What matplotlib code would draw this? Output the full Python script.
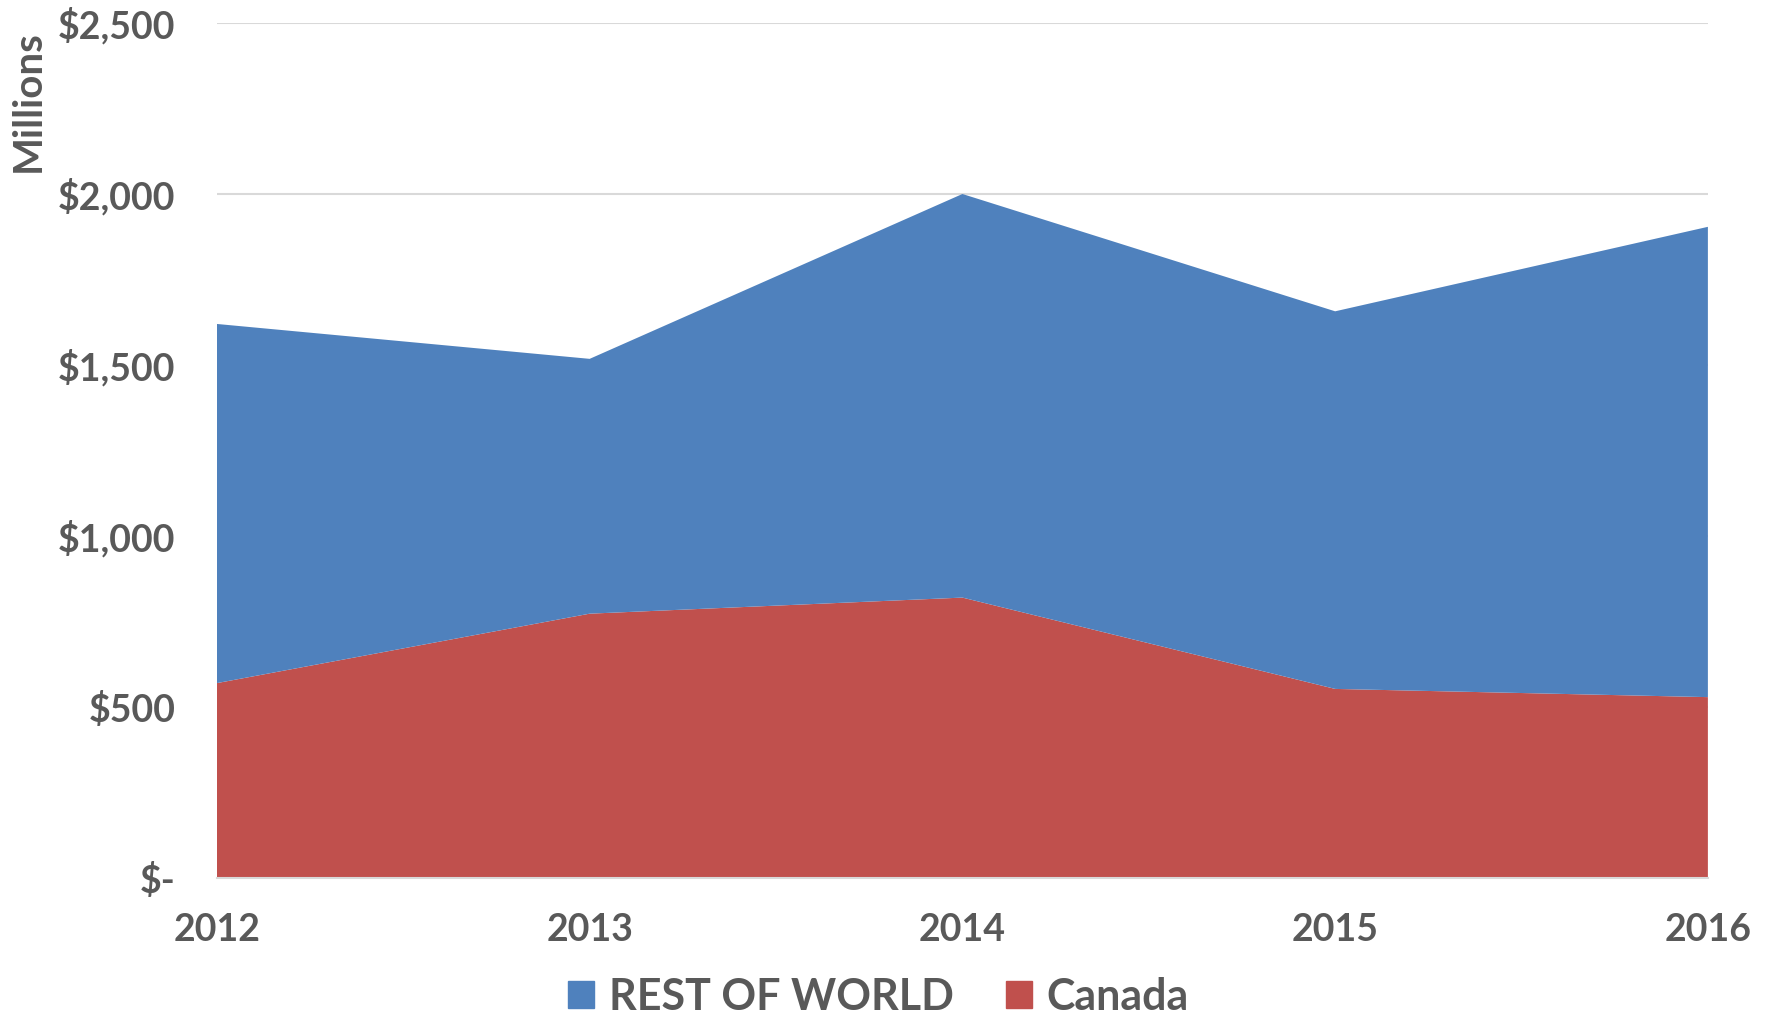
import matplotlib.pyplot as plt
from matplotlib.ticker import FuncFormatter
from matplotlib.patches import Patch

# Data (millions of dollars)
years = [2012, 2013, 2014, 2015, 2016]
canada = [570, 773, 820, 553, 529]
rest_of_world = [1050, 745, 1180, 1104, 1375]

blue = '#4F81BD'
red = '#C0504D'
grey_text = '#595959'

plt.rcParams['font.family'] = ['Lato', 'DejaVu Sans']

fig = plt.figure(figsize=(17.68, 10.21), dpi=100)
ax = fig.add_axes([0.1227, 0.140, 0.8433, 0.8375])

ax.stackplot(years, canada, rest_of_world, colors=[red, blue], linewidth=0)

ax.set_xlim(2012, 2016)
ax.set_ylim(0, 2500)
ax.set_yticks(range(0, 2501, 500))
ax.set_xticks(years)
ax.grid(axis='y', color='#D9D9D9', linewidth=1.5)
ax.set_axisbelow(True)

def money(v, pos):
    if v == 0:
        return '$-'
    return '${:,.0f}'.format(v)

ax.yaxis.set_major_formatter(FuncFormatter(money))

for s in ['top', 'right', 'left']:
    ax.spines[s].set_visible(False)
ax.spines['bottom'].set_color('#D9D9D9')
ax.spines['bottom'].set_linewidth(1.5)

ax.tick_params(axis='both', length=0, colors=grey_text, labelsize=27)
ax.tick_params(axis='y', pad=30)
ax.tick_params(axis='x', pad=25)
for lbl in ax.get_xticklabels() + ax.get_yticklabels():
    lbl.set_fontweight('bold')

fig.text(0.016, 0.901, 'Millions', rotation=90, ha='center', va='center',
         fontsize=29, fontweight='bold', color=grey_text)

handles = [Patch(color=blue, label='REST OF WORLD'), Patch(color=red, label='Canada')]
leg = fig.legend(handles=handles, loc='lower center', bbox_to_anchor=(0.497, 0.0), ncol=2,
                 frameon=False, handlelength=0.6, handleheight=0.6, handletextpad=0.35,
                 columnspacing=1.2, borderpad=0.1, borderaxespad=0,
                 prop={'weight': 'bold', 'size': 31})
for t in leg.get_texts():
    t.set_color(grey_text)

fig.savefig('out.png', dpi=100)
